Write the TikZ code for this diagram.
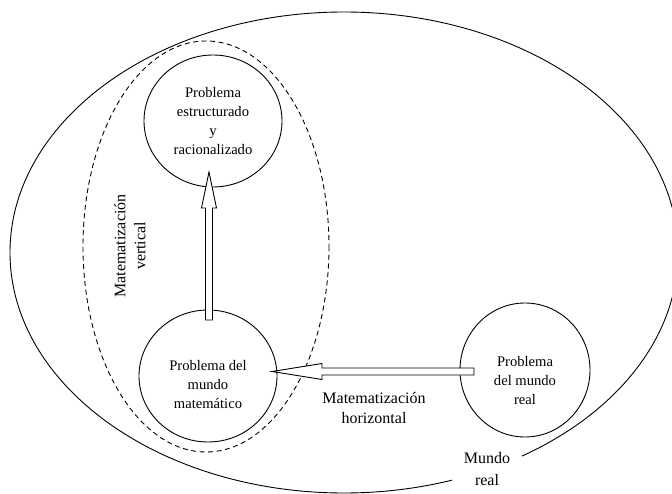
\documentclass[tikz,border=0pt]{standalone}
\usepackage{fontspec}
\setmainfont{Liberation Serif}
\usetikzlibrary{calc,shapes.geometric}
\begin{document}
\begin{tikzpicture}[x=1pt,y=-1pt,
  line width=0.9pt,
  circ/.style={draw, ellipse, minimum width=138pt, minimum height=132pt, inner sep=0pt},
  ctext/.style={align=center, font=\fontsize{14.6}{19}\selectfont, inner sep=0pt},
  lbl/.style={align=center, font=\fontsize{16}{20}\selectfont, inner sep=0pt},
  hollow/.style={draw, fill=white, line width=0.9pt, line join=miter}
]
\useasboundingbox (0,0) rectangle (672,494);
\begin{scope}
\clip (0,0) rectangle (672,494);
\draw (344,252.5) ellipse [x radius=334, y radius=240.5];
\end{scope}
\draw[dash pattern=on 5pt off 3.5pt] (206,246.5) ellipse [x radius=123, y radius=205.5];

\node[circ] (tc) at (213,121) {};
\node[ctext] (tct) at (213,121) {Problema\\estructurado\\y\\racionalizado};
\node[circ] (lc) at (208,376) {};
\node[ctext] (lct) at (208,385) {Problema del\\mundo\\matemático};
\node[circ, minimum width=130pt, minimum height=134pt] (rc) at (525,370) {};
\node[ctext] (rct) at (525,381) {Problema\\del mundo\\real};

\node[lbl, rotate=90] (mv) at (130,246) {Matematización\\vertical};
\node[lbl] (mh) at (374,408) {Matematización\\horizontal};
\node[lbl, fill=white, inner xsep=12pt, inner ysep=3pt, font=\fontsize{16}{22}\selectfont] (mr) at (487,469) {Mundo\\real};

\coordinate (va) at (209,320);
\coordinate (vb) at (209,172);
\draw[hollow] let \p1=(va), \p2=(vb) in
  (\x1-3.5pt,\y1) -- (\x1-3.5pt,\y2-36pt) -- (\x1-7.5pt,\y2-36pt) -- (\x2,\y2)
  -- (\x1+7.5pt,\y2-36pt) -- (\x1+3.5pt,\y2-36pt) -- (\x1+3.5pt,\y1) -- cycle;

\coordinate (ha) at (474,371.5);
\coordinate (hb) at (272,371.5);
\draw[hollow] let \p1=(ha), \p2=(hb) in
  (\x1,\y1+3.5pt) -- (\x2+50pt,\y1+3.5pt) -- (\x2+50pt,\y1+8pt) -- (\x2,\y2)
  -- (\x2+50pt,\y1-8pt) -- (\x2+50pt,\y1-3.5pt) -- (\x1,\y1-3.5pt) -- cycle;
\end{tikzpicture}
\end{document}
